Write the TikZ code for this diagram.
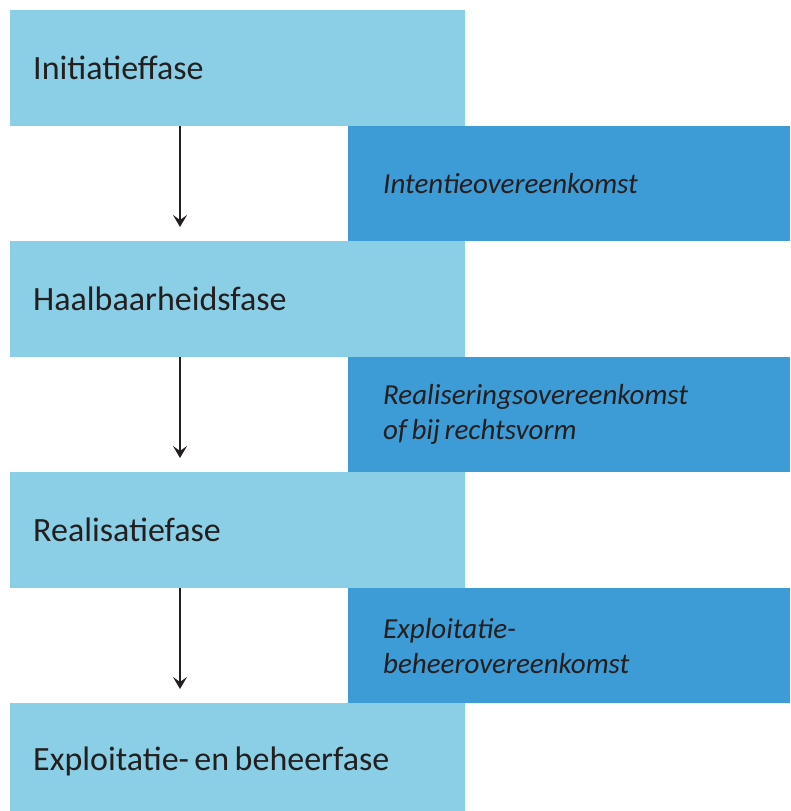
\documentclass[tikz,border=0pt]{standalone}
\usepackage{fontspec}
\setmainfont{Carlito}
\usetikzlibrary{arrows.meta}
\definecolor{lightblue}{HTML}{8ACFE5}
\definecolor{darkblue}{HTML}{3D9BD5}
\definecolor{ink}{HTML}{231F20}
\newcommand{\wsp}{\hspace{0.16em}}
\tikzset{
  phase/.style={fill=lightblue, draw=none, anchor=north west, minimum width=455pt, minimum height=116pt,
    inner xsep=23pt, inner ysep=0pt, text width=409pt, align=left, text=ink,
    font=\fontsize{34}{40}\selectfont},
  agree/.style={fill=darkblue, draw=none, anchor=north west, minimum width=442pt, minimum height=115pt,
    inner xsep=35pt, inner ysep=0pt, text width=372pt, align=left, text=ink,
    font=\fontsize{29}{35}\selectfont\itshape},
  flow/.style={draw=ink, line width=2.6pt, -{Stealth[length=12pt, width=14pt, inset=5pt]}}
}
\begin{document}
\begin{tikzpicture}[x=1pt, y=-1pt]
\useasboundingbox (0,0) rectangle (790,811);
\clip (0,0) rectangle (790,811);
\node[phase] (p1) at (10,10) {Initiatieffase};
\node[agree] (a1) at (348,126) {Intentieovereenkomst};
\node[phase] (p2) at (10,241) {Haalbaarheidsfase};
\node[agree] (a2) at (348,357) {Realiseringsovereenkomst\\of\wsp bij\wsp rechtsvorm};
\node[phase] (p3) at (10,472) {Realisatiefase};
\node[agree] (a3) at (348,588) {Exploitatie-\\beheerovereenkomst};
\node[phase] (p4) at (10,703) {Exploitatie-\wsp en\wsp beheerfase};
\coordinate (ax) at (180,0);
\draw[flow] (p1.south -| ax) -- ([yshift=14pt]p2.north -| ax);
\draw[flow] (p2.south -| ax) -- ([yshift=14pt]p3.north -| ax);
\draw[flow] (p3.south -| ax) -- ([yshift=14pt]p4.north -| ax);
\end{tikzpicture}
\end{document}
